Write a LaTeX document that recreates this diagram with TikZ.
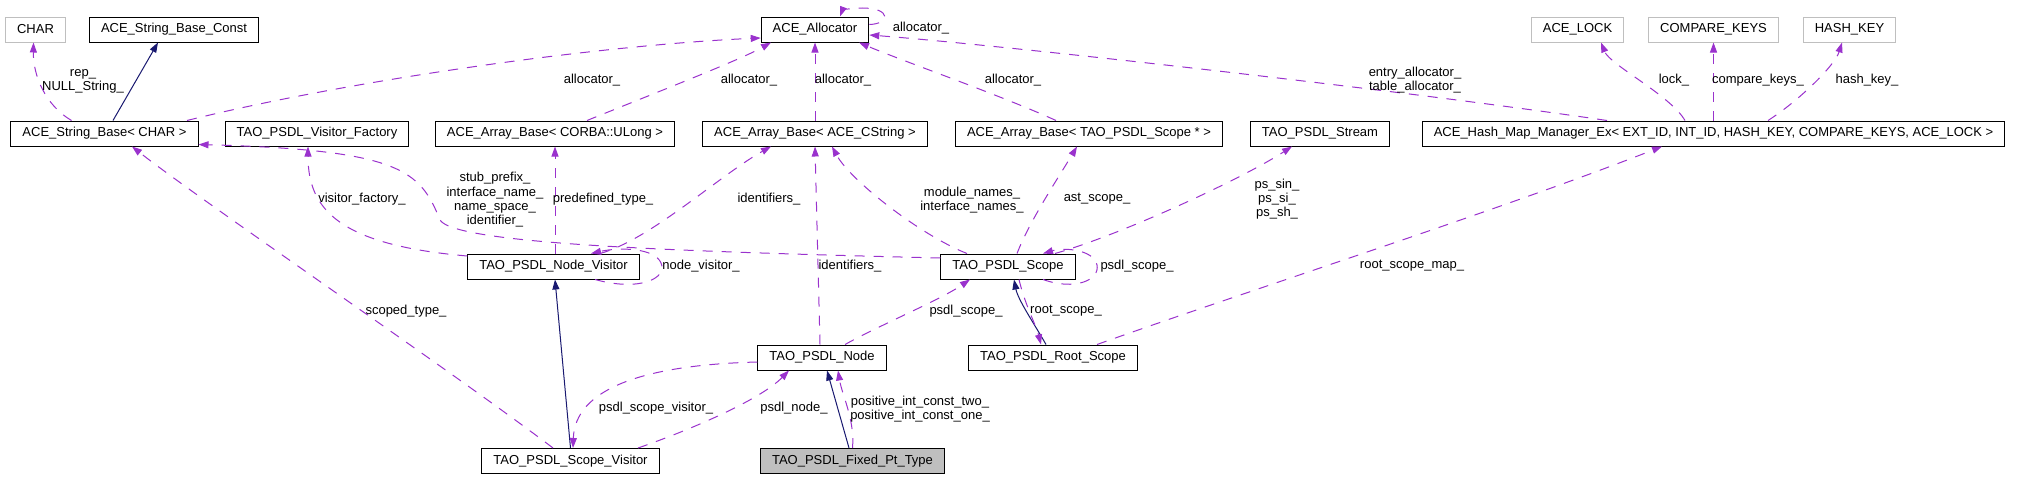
\documentclass[tikz,border=0pt]{standalone}
\usepackage{fontspec}
\setmainfont{Liberation Sans}
\usetikzlibrary{arrows.meta}

\definecolor{membercol}{HTML}{9A32CD}
\definecolor{inheritcol}{HTML}{191970}
\definecolor{tplcol}{HTML}{BFBFBF}

\tikzset{
	cls/.style={draw=black, line width=1pt, minimum height=25pt, inner xsep=11.5pt, inner ysep=0pt, font=\fontsize{13}{14.3}\selectfont},
	tpl/.style={cls, draw=tplcol},
	focus/.style={cls, fill=tplcol},
	lbl/.style={align=center, inner sep=0pt, font=\fontsize{13}{14.3}\selectfont},
	member/.style={draw=membercol, line width=1pt, dash pattern=on 10pt off 9pt, -{Triangle[length=10pt,width=7pt]}},
	inherit/.style={draw=inheritcol, line width=1pt, -{Triangle[length=10pt,width=7pt]}},
}

\begin{document}
\begin{tikzpicture}[x=1pt, y=-1pt]
		\useasboundingbox (0,0) rectangle (2017,479);

		% classes
		\node[tpl] (charp) at (35.5,29.5) {CHAR};
		\node[cls] (sbconst) at (174,29.5) {ACE\_String\_Base\_Const};
		\node[cls] (alloc) at (815,29.5) {ACE\_Allocator};
		\node[tpl] (lock) at (1577.5,29.5) {ACE\_LOCK};
		\node[tpl] (ckeys) at (1713.5,29.5) {COMPARE\_KEYS};
		\node[tpl] (hkey) at (1849.5,29.5) {HASH\_KEY};

		\node[cls] (strb) at (104.5,133.5) {ACE\_String\_Base< CHAR >};
		\node[cls] (vfac) at (317,133.5) {TAO\_PSDL\_Visitor\_Factory};
		\node[cls] (corba) at (555,133.5) {ACE\_Array\_Base< CORBA::ULong >};
		\node[cls] (cstr) at (815,133.5) {ACE\_Array\_Base< ACE\_CString >};
		\node[cls] (scptr) at (1089,133.5) {ACE\_Array\_Base< TAO\_PSDL\_Scope * >};
		\node[cls] (stream) at (1320,133.5) {TAO\_PSDL\_Stream};
		\node[cls] (hash) at (1713.5,133.5) {ACE\_Hash\_Map\_Manager\_Ex< EXT\_ID, INT\_ID, HASH\_KEY, COMPARE\_KEYS, ACE\_LOCK >};

		\node[cls] (nvis) at (553.5,266.5) {TAO\_PSDL\_Node\_Visitor};
		\node[cls] (scope) at (1008,266.5) {TAO\_PSDL\_Scope};

		\node[cls] (node) at (822,357.5) {TAO\_PSDL\_Node};
		\node[cls] (rscope) at (1053,357.5) {TAO\_PSDL\_Root\_Scope};

		\node[cls] (svis) at (570.5,461) {TAO\_PSDL\_Scope\_Visitor};
		\node[focus] (fixed) at (852.5,461) {TAO\_PSDL\_Fixed\_Pt\_Type};

		% inheritance
		\draw[inherit] ([xshift=8.5pt]strb.north) -- ([xshift=-16pt]sbconst.south);
		\draw[inherit] (svis.north) -- ([xshift=1.5pt]nvis.south);
		\draw[inherit] ([xshift=-3.5pt]fixed.north) -- ([xshift=5pt]node.south);
		\draw[inherit] ([xshift=-7pt]rscope.north) .. controls (1035,325) and (1018,300) .. ([xshift=6pt]scope.south);

		% members
		\draw[member] ([xshift=-33pt]strb.north) .. controls (45,105) and (33,75) .. ([xshift=-2pt]charp.south);
		\draw[member] ([xshift=82.5pt]strb.north) .. controls (350,80) and (600,45) .. ([yshift=-8.5pt]alloc.west);
		\draw[member] ([xshift=32pt]corba.north) .. controls (650,95) and (740,60) .. ([xshift=-44pt]alloc.south);
		\draw[member] (cstr.north) -- (alloc.south);
		\draw[member] ([xshift=-33pt]scptr.north) .. controls (1000,95) and (900,60) .. ([xshift=44pt]alloc.south);
		\draw[member] ([yshift=5pt]alloc.east) .. controls (890,24) and (892,8) .. (862,8) .. controls (850,8) and (842,11) .. ([xshift=25pt]alloc.north);
		\draw[member] ([xshift=-106.5pt]hash.north) .. controls (1400,90) and (1000,45) .. ([yshift=-5.5pt]alloc.east);
		\draw[member] ([xshift=-28.5pt]hash.north) .. controls (1670,95) and (1610,65) .. ([xshift=23.5pt]lock.south);
		\draw[member] (hash.north) -- (ckeys.south);
		\draw[member] ([xshift=54.5pt]hash.north) .. controls (1800,100) and (1835,65) .. ([xshift=-7.5pt]hkey.south);

		\draw[member] ([xshift=-17.5pt]svis.north) .. controls (450,370) and (200,200) .. ([xshift=27.5pt]strb.south);
		\draw[member] ([yshift=10.5pt]nvis.west) .. controls (340,245) and (308,210) .. ([xshift=-9pt]vfac.south);
		\draw[member] ([yshift=8.5pt]scope.west) .. controls (700,252) and (455,245) .. (440,220) .. controls (420,170) and (400,150) .. ([yshift=2pt]strb.south east);
		\draw[member] ([xshift=1.5pt]nvis.north) -- (corba.south);
		\draw[member] ([xshift=46.5pt]nvis.north) .. controls (650,240) and (720,175) .. ([xshift=-44pt]cstr.south);
		\draw[member] ([xshift=41.5pt]nvis.south) .. controls (640,292) and (668,278) .. (661,263) .. controls (655,248) and (620,247) .. ([xshift=37.5pt]nvis.north);

		\draw[member] ([xshift=-41pt]scope.north) .. controls (920,235) and (850,180) .. ([xshift=17pt]cstr.south);
		\draw[member] ([xshift=9pt]scope.north) .. controls (1030,220) and (1060,175) .. ([xshift=-12pt]scptr.south);
		\draw[member] ([xshift=47pt]scope.north) .. controls (1120,235) and (1240,180) .. ([xshift=-28pt]stream.south);
		\draw[member] ([xshift=35pt]scope.south) .. controls (1075,291) and (1100,280) .. (1097,265) .. controls (1094,250) and (1065,247) .. ([xshift=35pt]scope.north);
		\draw[member] ([xshift=11pt]scope.south) .. controls (1025,305) and (1036,325) .. ([xshift=-12pt]rscope.north);
		\draw[member] ([xshift=44pt]rscope.north) .. controls (1250,290) and (1500,210) .. ([xshift=-51.5pt]hash.south);

		\draw[member] ([xshift=-2pt]node.north) -- (cstr.south);
		\draw[member] ([xshift=23pt]node.north) .. controls (880,325) and (940,300) .. ([xshift=-38pt]scope.south);
		\draw[member] ([yshift=-4.5pt]node.west) .. controls (640,365) and (575,390) .. ([xshift=2.5pt]svis.north);
		\draw[member] ([xshift=67.5pt]svis.north) .. controls (690,430) and (760,400) .. ([xshift=-33pt]node.south);
		\draw[member] (fixed.north) .. controls (855,420) and (842,395) .. ([xshift=16pt]node.south);

		% labels
		\node[lbl] (lrep) at (83,81) {rep\_\\NULL\_String\_};
		\node[lbl] (lalloca) at (592,80) {allocator\_};
		\node[lbl] (lallocb) at (749,80) {allocator\_};
		\node[lbl] (lallocc) at (843,80) {allocator\_};
		\node[lbl] (lallocd) at (1013,80) {allocator\_};
		\node[lbl] (lalloce) at (921,28) {allocator\_};
		\node[lbl] (lentry) at (1415,80) {entry\_allocator\_\\table\_allocator\_};
		\node[lbl] (llock) at (1674,80) {lock\_};
		\node[lbl] (lckeys) at (1758,80) {compare\_keys\_};
		\node[lbl] (lhkey) at (1867,80) {hash\_key\_};
		\node[lbl] (lscoped) at (406,311) {scoped\_type\_};
		\node[lbl] (lvfac) at (362,199) {visitor\_factory\_};
		\node[lbl] (lstub) at (495,200) {stub\_prefix\_\\interface\_name\_\\name\_space\_\\identifier\_};
		\node[lbl] (lpredef) at (603,199) {predefined\_type\_};
		\node[lbl] (lidsa) at (769,199) {identifiers\_};
		\node[lbl] (lnvis) at (701,266) {node\_visitor\_};
		\node[lbl] (lmods) at (972,200) {module\_names\_\\interface\_names\_};
		\node[lbl] (last) at (1097,199) {ast\_scope\_};
		\node[lbl] (lps) at (1277,199) {ps\_sin\_\\ps\_si\_\\ps\_sh\_};
		\node[lbl] (lpsdla) at (1137,266) {psdl\_scope\_};
		\node[lbl] (lroot) at (1066,311) {root\_scope\_};
		\node[lbl] (lrmap) at (1412,266) {root\_scope\_map\_};
		\node[lbl] (lidsb) at (850,266) {identifiers\_};
		\node[lbl] (lpsdlb) at (966,311) {psdl\_scope\_};
		\node[lbl] (lsvis) at (656,408) {psdl\_scope\_visitor\_};
		\node[lbl] (lpnode) at (794,408) {psdl\_node\_};
		\node[lbl] (lpos) at (920,409) {positive\_int\_const\_two\_\\positive\_int\_const\_one\_};
	\end{tikzpicture}
\end{document}
